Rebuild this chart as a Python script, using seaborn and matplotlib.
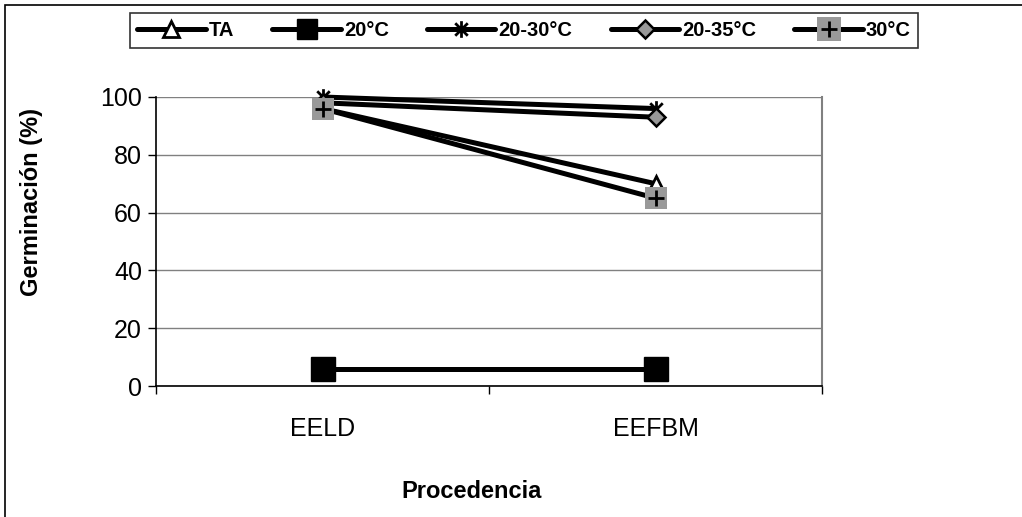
import matplotlib
matplotlib.use("Agg")
import matplotlib.pyplot as plt
from matplotlib.lines import Line2D
from matplotlib.patches import Rectangle
from matplotlib.path import Path
from matplotlib.legend_handler import HandlerTuple
import seaborn as sns
import pandas as pd

# Germination (%) by seed origin and temperature treatment
procedencia = ["EELD", "EEFBM"]
ta = [96, 70]
t20 = [6, 6]
t20_30 = [100, 96]
t20_35 = [98, 93]
t30 = [96, 65]
series_names = ["TA", "20°C", "20-30°C", "20-35°C", "30°C"]
y_ticks = [0, 20, 40, 60, 80, 100]

sns.set_theme(style="white")
plt.rcParams["font.family"] = ["Liberation Sans", "DejaVu Sans"]
for key in ["text.color", "axes.labelcolor", "xtick.color", "ytick.color"]:
    plt.rcParams[key] = "black"

fig = plt.figure(figsize=(10.22, 5.17), dpi=100)
ax = fig.add_axes([156 / 1022, 1 - 386 / 517, 666 / 1022, 289 / 517])

# Star marker: an X crossed by a vertical stroke
star = Path([(0, -1), (0, 1), (-0.75, -0.75), (0.75, 0.75), (-0.75, 0.75), (0.75, -0.75)],
            [Path.MOVETO, Path.LINETO, Path.MOVETO, Path.LINETO, Path.MOVETO, Path.LINETO])

lw = 3.6
styles = [
    dict(marker="^", markersize=11.5, markerfacecolor="white", markeredgecolor="black", markeredgewidth=2),
    dict(marker="s", markersize=17, markerfacecolor="black", markeredgecolor="black", markeredgewidth=1),
    dict(marker=star, markersize=12, markerfacecolor="none", markeredgecolor="black", markeredgewidth=2),
    dict(marker="D", markersize=9, markerfacecolor="#999999", markeredgecolor="black", markeredgewidth=1.8),
    dict(marker="s", markersize=16.5, markerfacecolor="#999999", markeredgecolor="#999999", markeredgewidth=0),
]
legend_sizes = [11.5, 14, 12, 9, 17]
values = [ta, t20, t20_30, t20_35, t30]

handles = []
for name, vals, st, ms in zip(series_names, values, styles, legend_sizes):
    df = pd.DataFrame({"Procedencia": procedencia, "Germinación": vals})
    sns.lineplot(data=df, x="Procedencia", y="Germinación", ax=ax, color="black",
                 linewidth=lw, sort=False, clip_on=False, **st)
    hst = dict(st)
    hst["markersize"] = ms
    handles.append(Line2D([], [], color="black", linewidth=lw, **hst))

# Plus sign overlaid on the grey squares of the 30°C series
plus_style = dict(marker="+", markersize=12, markeredgecolor="black", markeredgewidth=2)
df30 = pd.DataFrame({"Procedencia": procedencia, "Germinación": t30})
sns.lineplot(data=df30, x="Procedencia", y="Germinación", ax=ax, linestyle="none",
             color="black", sort=False, **plus_style)
handles[-1] = (handles[-1], Line2D([], [], linestyle="none", **plus_style))

ax.set_xlim(-0.5, 1.5)
ax.set_ylim(0, 100)
ax.set_yticks(y_ticks)
ax.set_xticks(range(len(procedencia)))
ax.set_xticklabels(procedencia)
ax.set_xticks([-0.5, 0.5, 1.5], minor=True)
ax.tick_params(axis="x", which="major", length=0, labelsize=18, pad=22)
ax.tick_params(axis="x", which="minor", length=6, width=1, color="black", bottom=True)
ax.tick_params(axis="y", length=6, width=1, labelsize=18, pad=4, left=True, color="black")

ax.yaxis.grid(True, color="#808080", linewidth=1)
ax.xaxis.grid(False)
for side in ["left", "bottom"]:
    ax.spines[side].set_color("black")
    ax.spines[side].set_linewidth(1.2)
ax.spines["right"].set_color("#808080")
ax.spines["right"].set_linewidth(1.5)
ax.spines["top"].set_visible(False)

ax.set_xlabel("Procedencia", fontsize=17, fontweight="bold")
ax.set_ylabel("Germinación (%)", fontsize=17, fontweight="bold")
ax.xaxis.set_label_coords(0.4745, -0.325)
ax.yaxis.set_label_coords(-0.17, 0.637)

leg = fig.legend(handles, series_names, ncol=5, loc="center",
                 bbox_to_anchor=(524 / 1022, 1 - 30.5 / 517),
                 prop={"weight": "bold", "size": 14.5},
                 handlelength=3.4, handletextpad=0.15, columnspacing=1.9,
                 frameon=True, fancybox=False, borderpad=0.38,
                 handler_map={tuple: HandlerTuple(ndivide=1)})
leg.get_frame().set_edgecolor("black")
leg.get_frame().set_linewidth(1.2)

# Outer chart frame
fig.patches.append(Rectangle((5 / 1022, -0.5), 2, 0.5 + 1 - 5 / 517, transform=fig.transFigure,
                             fill=False, edgecolor="black", linewidth=1.2))

fig.savefig("out.png", dpi=100)
